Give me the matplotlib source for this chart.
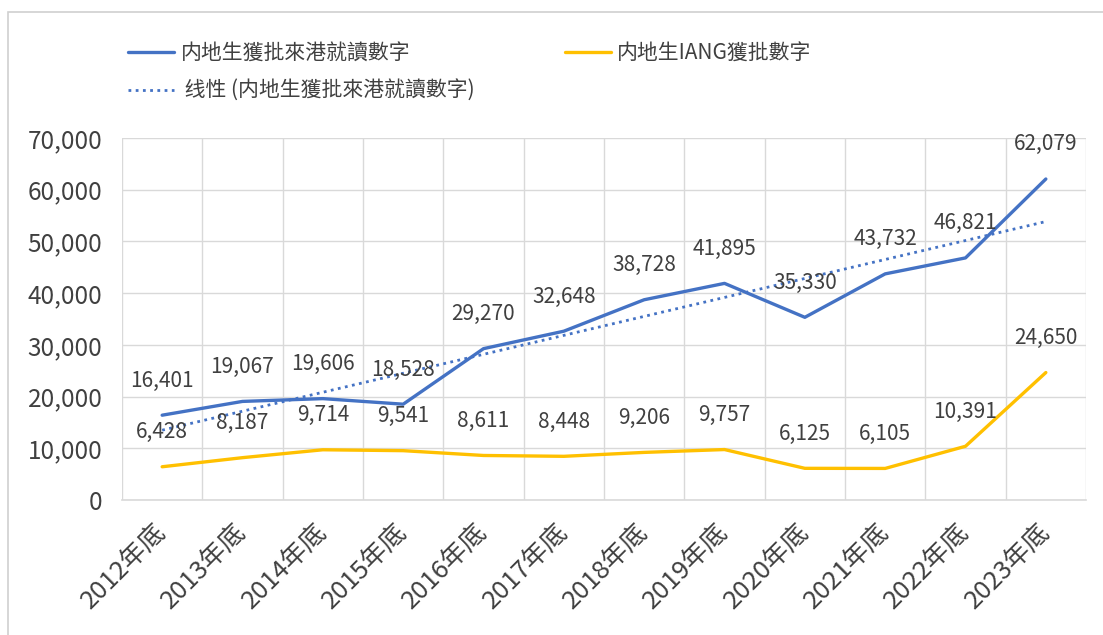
import numpy as np
import matplotlib
matplotlib.use("Agg")
import matplotlib.pyplot as plt
import matplotlib.ticker as mticker
from matplotlib.patches import Rectangle

plt.rcParams["font.family"] = ["Noto Sans CJK TC", "DejaVu Sans"]

# ── Data ──────────────────────────────────────
years = ["2012年底", "2013年底", "2014年底", "2015年底", "2016年底", "2017年底",
         "2018年底", "2019年底", "2020年底", "2021年底", "2022年底", "2023年底"]
approved = [16401, 19067, 19606, 18528, 29270, 32648,
            38728, 41895, 35330, 43732, 46821, 62079]
iang = [6428, 8187, 9714, 9541, 8611, 8448,
        9206, 9757, 6125, 6105, 10391, 24650]

BLUE = "#4472C4"
GOLD = "#FFC000"
TEXT = "#404040"
GRID = "#D9D9D9"

x = np.arange(len(years))
slope, intercept = np.polyfit(x + 1, approved, 1)
trend = slope * (x + 1) + intercept

# ── Plot ──────────────────────────────────────
fig = plt.figure(figsize=(11.03, 6.35), dpi=100)
ax = fig.add_axes([0.1106, 0.2126, 0.874, 0.570])

# chart frame
fig.patches.append(Rectangle((8 / 1103, -0.1), 1.2, 1 - 12 / 635 + 0.1,
                             transform=fig.transFigure, fill=False,
                             edgecolor="#D0D0D0", linewidth=1.2))

l1, = ax.plot(x, approved, color=BLUE, linewidth=2.4, solid_capstyle="round",
              label="内地生獲批來港就讀數字", zorder=3)
l2, = ax.plot(x, iang, color=GOLD, linewidth=2.4, solid_capstyle="round",
              label="内地生IANG獲批數字", zorder=3)
l3, = ax.plot(x, trend, color=BLUE, linewidth=2.0, linestyle=(0, (1, 1.6)),
              label=" 线性 (内地生獲批來港就讀數字)", zorder=2)

for xi, v in zip(x, approved):
    ax.annotate(f"{v:,}", (xi, v), xytext=(0, 25), textcoords="offset points",
                ha="center", va="center", fontsize=15, color=TEXT, zorder=4)
for xi, v in zip(x, iang):
    ax.annotate(f"{v:,}", (xi, v), xytext=(0, 25), textcoords="offset points",
                ha="center", va="center", fontsize=15, color=TEXT, zorder=4)

ax.set_xlim(-0.5, len(years) - 0.5)
ax.set_ylim(0, 70000)
ax.yaxis.set_major_locator(mticker.MultipleLocator(10000))
ax.yaxis.set_major_formatter(mticker.FuncFormatter(lambda v, _: f"{v:,.0f}"))
ax.set_xticks(x)
ax.set_xticklabels(years, rotation=45, ha="right", va="center",
                   rotation_mode="anchor")
ax.xaxis.set_minor_locator(mticker.FixedLocator(np.arange(-0.5, len(years), 1.0)))
ax.tick_params(axis="x", which="major", length=0, pad=20, labelsize=18.5,
               labelcolor=TEXT)
ax.tick_params(axis="x", which="minor", length=0)
ax.tick_params(axis="y", length=0, pad=14, labelsize=17.5, labelcolor=TEXT)

ax.grid(True, axis="y", which="major", color=GRID, linewidth=1)
ax.grid(True, axis="x", which="minor", color=GRID, linewidth=1)
ax.grid(False, axis="x", which="major")
ax.set_axisbelow(True)
for side in ["top", "right", "left"]:
    ax.spines[side].set_visible(False)
ax.spines["bottom"].set_color(GRID)
ax.spines["bottom"].set_linewidth(1.2)

fig.legend(handles=[l1, l3, l2], ncol=2, loc="upper left",
           bbox_to_anchor=(118 / 1103, 1 - 32 / 635), frameon=False,
           fontsize=15, handlelength=2.2, handletextpad=0.3,
           columnspacing=4.3, labelspacing=0.75, borderpad=0,
           labelcolor=TEXT)

fig.savefig("out.png", dpi=100)
